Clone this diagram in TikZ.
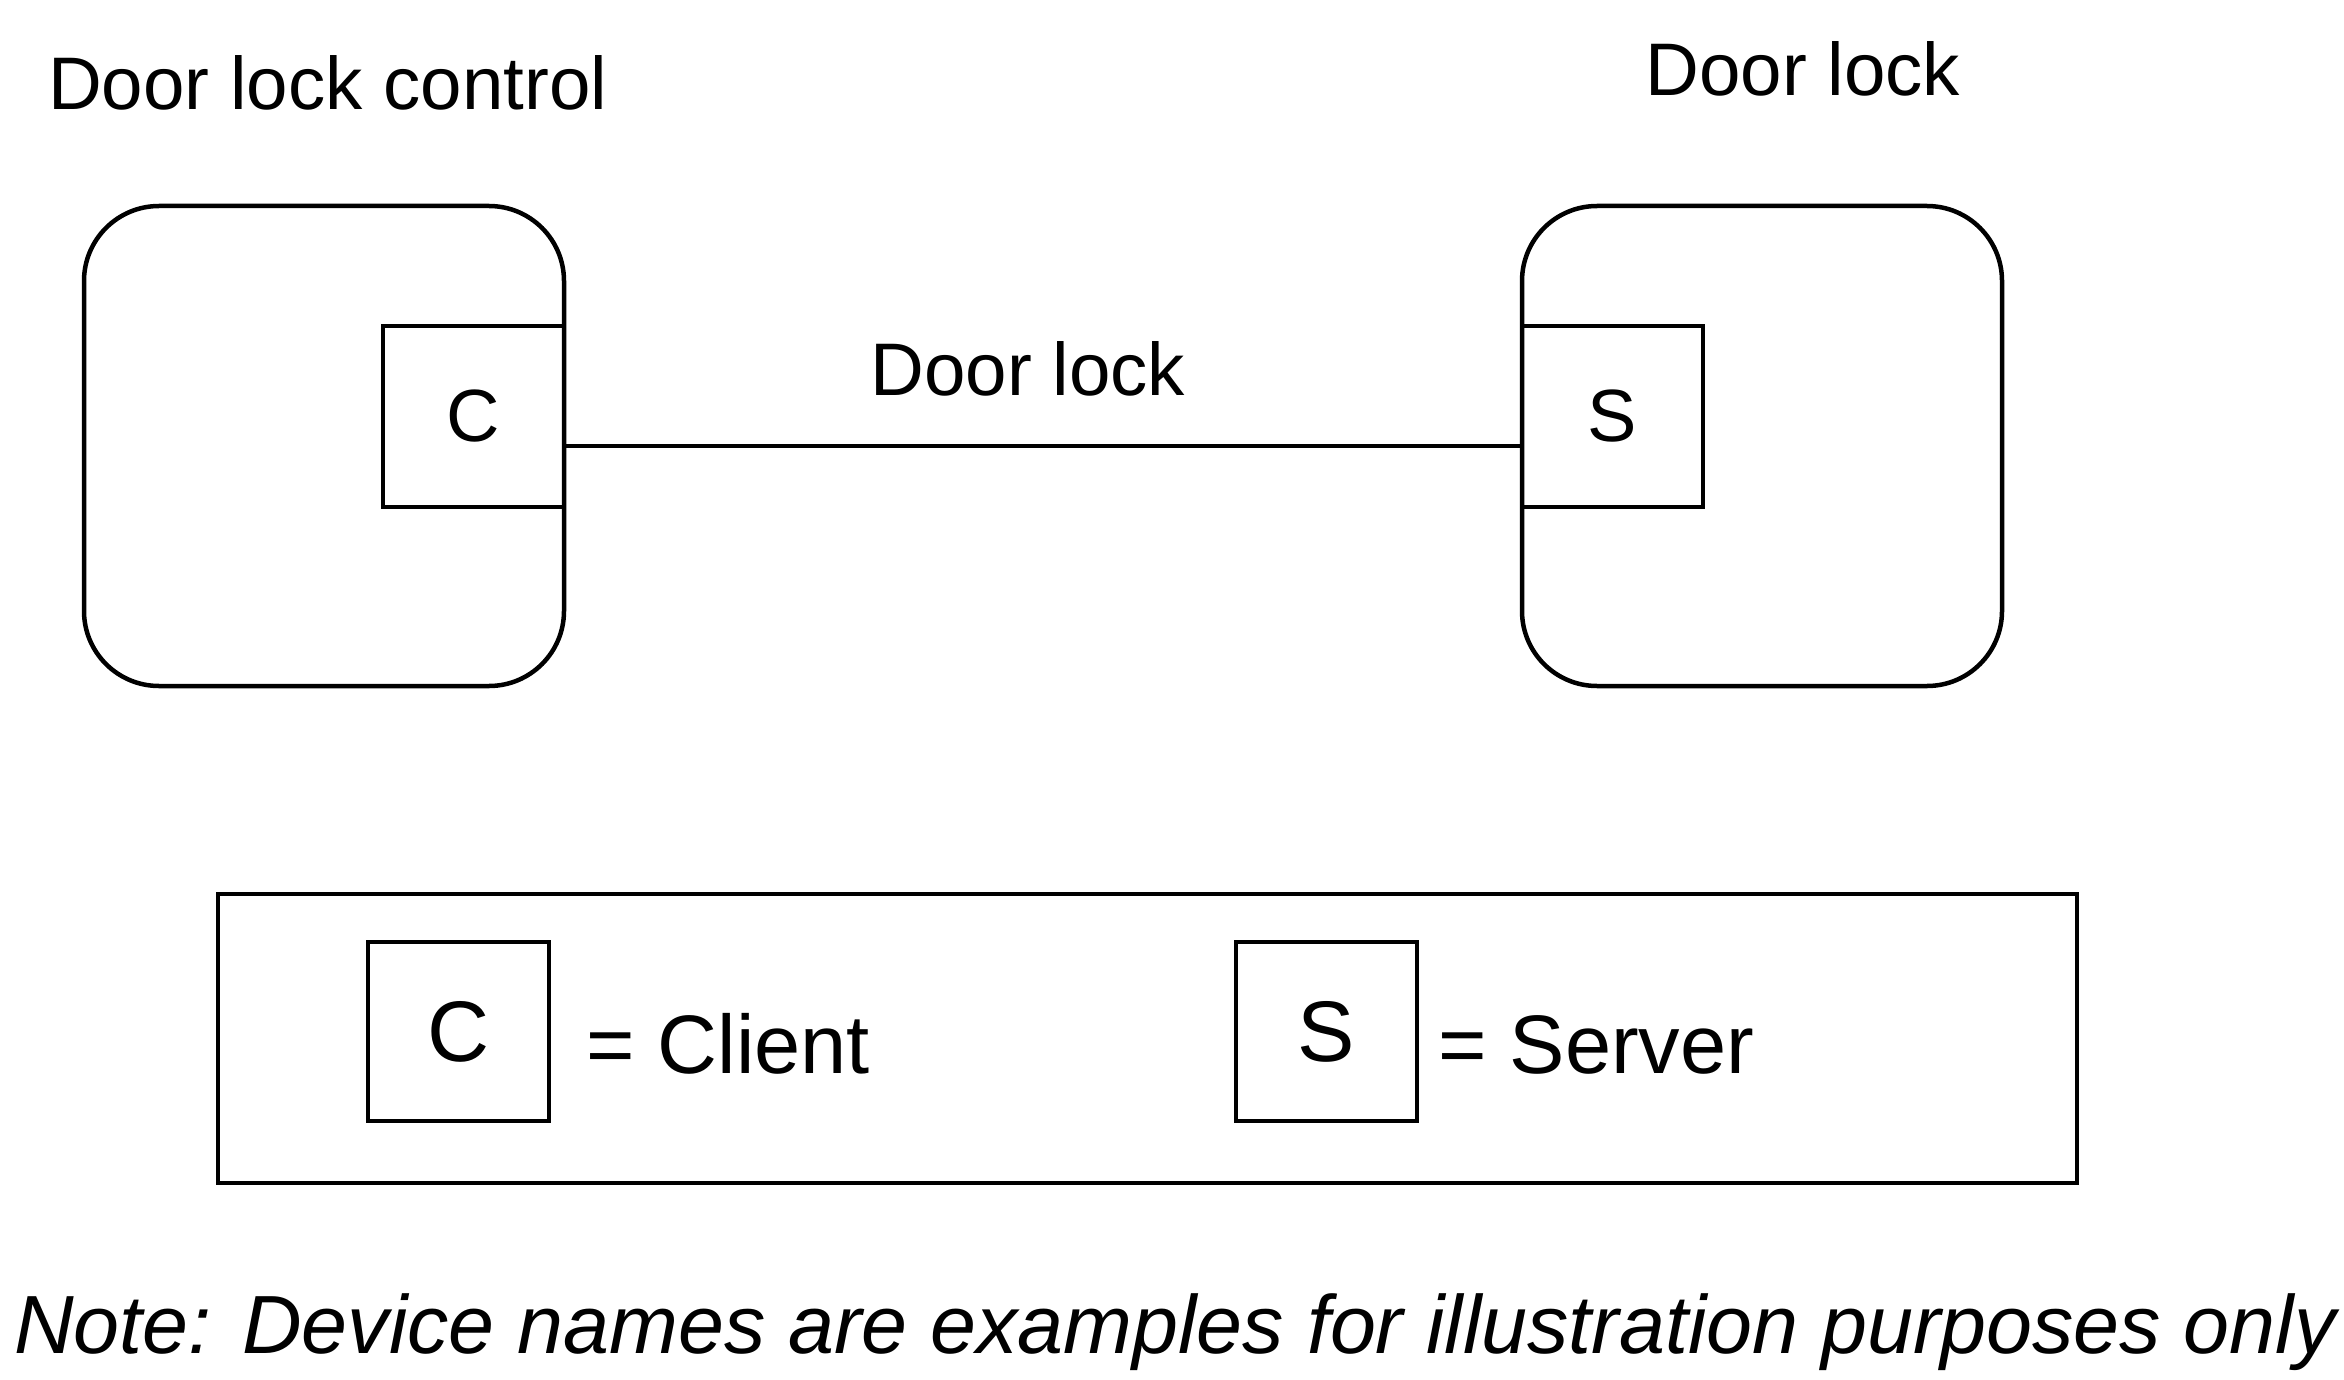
\documentclass[tikz,border=0pt]{standalone}
\usepackage{fontspec}
\setmainfont{Liberation Sans}
\begin{document}
\begin{tikzpicture}[x=1pt,y=-1pt,
  dev/.style={draw, line width=4.5pt, rounded corners=75, minimum width=480, minimum height=480, inner sep=0},
  port/.style={draw, line width=4.5pt, minimum width=181, minimum height=181, inner sep=0, font=\fontsize{74}{89}\selectfont},
  lport/.style={draw, line width=4.5pt, minimum width=181, minimum height=179, inner sep=0, font=\fontsize{86}{100}\selectfont},
  lbl/.style={inner sep=0, font=\fontsize{74.5}{89}\selectfont},
  ltext/.style={inner sep=0, anchor=base west, font=\fontsize{83}{100}\selectfont},
  conn/.style={line width=4.5pt}]
\useasboundingbox (0,0) rectangle (2344,1380);
\node[dev] (lbox) at (324,446) {};
\node[dev] (rbox) at (1762,446) {};
\node[port] (cport) at (473.5,416.5) {C};
\node[port] (sport) at (1612.5,416.5) {S};
\draw[conn] (lbox.east) -- node[lbl, anchor=base, yshift=51pt, xshift=-15pt] (linklbl) {Door lock} (rbox.west);
\node[lbl, anchor=base west] (ltitle) at (48,110) {Door lock control};
\node[lbl, anchor=base] (rtitle) at (1803,96) {Door lock};
\node[draw, line width=4.5pt, minimum width=1859, minimum height=289, inner sep=0] (legend) at (1147.5,1038.5) {};
\node[lport] (lc) at (458.5,1031.5) {C};
\node[lport] (ls) at (1326.5,1031.5) {S};
\node[ltext] (lct) at (586,1073) {= Client};
\node[ltext] (lst) at (1438,1073) {= Server};
\node[inner sep=0, anchor=base, font=\fontsize{82.6}{100}\selectfont\itshape] (note) at (1175,1353) {Note: Device names are examples for illustration purposes only};
\end{tikzpicture}
\end{document}
